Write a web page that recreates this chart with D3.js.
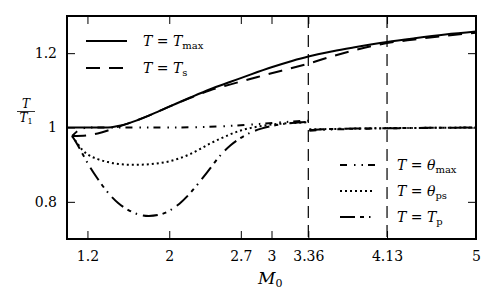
<!DOCTYPE html>
<html>
<head>
<meta charset="utf-8">
<script src="https://cdn.jsdelivr.net/npm/d3@7"></script>
<style>
  html, body { margin: 0; padding: 0; background: #fff; }
  svg { display: block; }
  svg text { font-family: "DejaVu Serif", serif !important; fill: #000; }
</style>
</head>
<body>
<svg id="chart" width="498" height="306"></svg>
<script>
// axis ticks
const xTicks = [1.2, 2, 2.7, 3, 3.36, 4.13, 5];
const xTickLabels = ['1.2', '2', '2.7', '3', '3.36', '4.13', '5'];
const yTicks = [0.8, 1, 1.2];
const yTickLabels = ['0.8', '1', '1.2'];
const markerMachs = [3.36, 4.13];

// T = T_max
const tmaxMach = [1.0, 1.2, 1.4, 1.5, 1.6, 1.7, 1.8, 1.9, 2.0, 2.2, 2.4, 2.6, 2.8, 3.0, 3.2, 3.36, 3.6, 3.8, 4.13, 4.4, 4.7, 5.0];
const tmaxVal  = [1.0, 1.0, 1.0, 1.004, 1.011, 1.021, 1.032, 1.044, 1.056, 1.08, 1.103, 1.123, 1.143, 1.162, 1.179, 1.191, 1.205, 1.215, 1.23, 1.24, 1.25, 1.258];

// T = T_s
const tsMach = [1.05, 1.2, 1.3, 1.4, 1.5, 1.6, 1.8, 2.0, 2.2, 2.4, 2.6, 2.8, 3.0, 3.2, 3.36, 3.6, 3.8, 4.13, 4.4, 4.7, 5.0];
const tsVal  = [0.977, 0.979, 0.984, 0.992, 1.002, 1.011, 1.032, 1.056, 1.079, 1.1, 1.116, 1.131, 1.146, 1.16, 1.172, 1.192, 1.207, 1.227, 1.237, 1.247, 1.255];

// T = theta_max (NaN = break at the shock)
const thetaMaxMach = [1.05, 1.1, 1.15, 1.2, 1.6, 2.0, 2.3, 2.5, 2.7, 2.9, 3.1, 3.25, 3.36, 3.361, 3.37, 3.5, 3.8, 4.2, 4.6, 5.0];
const thetaMaxVal  = [0.977, 0.99, 0.997, 1.0, 1.0, 1.0, 1.001, 1.003, 1.006, 1.01, 1.014, 1.017, 1.018, NaN, 0.991, 0.994, 0.996, 0.998, 0.999, 1.0];

// T = theta_ps
const thetaPsMach = [1.05, 1.1, 1.15, 1.2, 1.3, 1.4, 1.5, 1.6, 1.7, 1.8, 1.9, 2.0, 2.1, 2.2, 2.3, 2.4, 2.5, 2.6, 2.7, 2.8, 2.9, 3.0, 3.2, 3.36, 3.361, 3.37, 3.6, 4.0, 4.5, 5.0];
const thetaPsVal  = [0.977, 0.958, 0.94, 0.928, 0.915, 0.907, 0.902, 0.9, 0.9, 0.901, 0.904, 0.909, 0.917, 0.928, 0.942, 0.957, 0.97, 0.982, 0.992, 0.999, 1.004, 1.008, 1.012, 1.014, NaN, 0.995, 0.996, 0.998, 0.999, 1.0];

// T = T_p
const tpMach = [1.05, 1.1, 1.15, 1.2, 1.3, 1.4, 1.5, 1.6, 1.7, 1.8, 1.9, 2.0, 2.1, 2.2, 2.3, 2.4, 2.5, 2.6, 2.7, 2.8, 2.9, 3.0, 3.1, 3.2, 3.36, 3.361, 3.37, 3.5, 3.8, 4.13, 4.5, 5.0];
const tpVal  = [0.977, 0.955, 0.93, 0.905, 0.862, 0.825, 0.797, 0.778, 0.766, 0.762, 0.765, 0.776, 0.795, 0.822, 0.855, 0.89, 0.925, 0.952, 0.972, 0.987, 0.997, 1.004, 1.009, 1.012, 1.015, NaN, 0.993, 0.995, 0.997, 0.998, 0.999, 1.0];

const zip = (ms, vs) => ms.map((m, i) => ({ m: m, v: vs[i] }));

const series = [
  { data: zip(tmaxMach, tmaxVal), dash: null },
  { data: zip(tsMach, tsVal), dash: '14,9' },
  { data: zip(thetaMaxMach, thetaMaxVal), dash: '7,7,1.5,6,1.5,5' },
  { data: zip(thetaPsMach, thetaPsVal), dash: '2,3' },
  { data: zip(tpMach, tpVal), dash: '15,5,4,5,1.5,6' }
];

const plot = { left: 67, right: 476, top: 16, bottom: 239 };

const svg = d3.select('#chart');
const x = d3.scaleLinear().domain([1, 5]).range([plot.left, plot.right]);
const y = d3.scaleLinear().domain([0.7, 1.3]).range([plot.bottom, plot.top]);

// shock marker lines
svg.append('g')
  .selectAll('line')
  .data(markerMachs)
  .enter().append('line')
  .attr('x1', d => x(d)).attr('x2', d => x(d))
  .attr('y1', plot.top).attr('y2', plot.bottom)
  .attr('stroke', '#000')
  .attr('stroke-width', 1.2)
  .attr('stroke-dasharray', '12,7');

// curves
const line = d3.line()
  .defined(d => !isNaN(d.v))
  .x(d => x(d.m))
  .y(d => y(d.v))
  .curve(d3.curveMonotoneX);

svg.append('g')
  .selectAll('path')
  .data(series)
  .enter().append('path')
  .attr('d', d => line(d.data))
  .attr('fill', 'none')
  .attr('stroke', '#000')
  .attr('stroke-width', 2)
  .attr('stroke-dasharray', d => d.dash);

// axes with inward ticks on all four sides
const tickLen = 8;
const addAxis = (axis, tx, ty) => {
  const g = svg.append('g').attr('transform', `translate(${tx},${ty})`).call(axis);
  g.select('.domain').remove();
  g.attr('font-family', null).attr('font-size', 14);
  g.selectAll('.tick line').attr('stroke', '#000').attr('stroke-width', 1);
  return g;
};

addAxis(
  d3.axisBottom(x).tickValues(xTicks).tickSize(-tickLen).tickPadding(12)
    .tickFormat((d, i) => xTickLabels[i]),
  0, plot.bottom);
addAxis(d3.axisTop(x).tickValues(xTicks).tickSize(-tickLen).tickFormat(''), 0, plot.top);
addAxis(
  d3.axisLeft(y).tickValues(yTicks).tickSize(-tickLen).tickPadding(10)
    .tickFormat((d, i) => yTickLabels[i]),
  plot.left, 0);
addAxis(d3.axisRight(y).tickValues(yTicks).tickSize(-tickLen).tickFormat(''), plot.right, 0);

svg.append('rect')
  .attr('x', plot.left).attr('y', plot.top)
  .attr('width', plot.right - plot.left).attr('height', plot.bottom - plot.top)
  .attr('fill', 'none').attr('stroke', '#000').attr('stroke-width', 2);

// axis labels
const xLabel = svg.append('text')
  .attr('x', 258).attr('y', 284);
xLabel.append('tspan').attr('font-size', 17).attr('font-style', 'italic').text('M');
xLabel.append('tspan').attr('font-size', 11).attr('dx', 0).attr('dy', 3).text('0');

const yLabel = svg.append('g').attr('transform', 'translate(26,0)');
yLabel.append('text').attr('y', 108).attr('text-anchor', 'middle')
  .attr('font-size', 12).attr('font-style', 'italic').text('T');
yLabel.append('line').attr('x1', -9).attr('x2', 9).attr('y1', 111.5).attr('y2', 111.5)
  .attr('stroke', '#000').attr('stroke-width', 0.8);
const yDen = yLabel.append('text').attr('y', 122).attr('text-anchor', 'middle').attr('font-size', 12);
yDen.append('tspan').attr('font-style', 'italic').text('T');
yDen.append('tspan').attr('font-size', 8).attr('dy', 2).text('1');

// legends
const legendItems = [
  { s: 0, sym: 'T', sub: 'max', lx: 86, lw: 41, tx: 143, ly: 41 },
  { s: 1, sym: 'T', sub: 's', lx: 86, lw: 41, tx: 143, ly: 68 },
  { s: 2, sym: '\u03B8', sub: 'max', lx: 340, lw: 35, tx: 397, ly: 165 },
  { s: 3, sym: '\u03B8', sub: 'ps', lx: 340, lw: 35, tx: 397, ly: 191 },
  { s: 4, sym: 'T', sub: 'p', lx: 340, lw: 35, tx: 397, ly: 217 }
];

const legend = svg.append('g')
  .selectAll('g')
  .data(legendItems)
  .enter().append('g');

legend.append('line')
  .attr('x1', d => d.lx).attr('x2', d => d.lx + d.lw)
  .attr('y1', d => d.ly).attr('y2', d => d.ly)
  .attr('stroke', '#000').attr('stroke-width', 2)
  .attr('stroke-dasharray', d => series[d.s].dash);

const legendText = legend.append('text')
  .attr('x', d => d.tx).attr('y', d => d.ly + 5)
  .attr('font-size', 14);
legendText.append('tspan').attr('font-style', 'italic').text('T');
legendText.append('tspan').text(' = ');
legendText.append('tspan').attr('font-style', 'italic').text(d => d.sym);
legendText.append('tspan').attr('font-size', 10).attr('dy', 3).text(d => d.sub);
</script>
</body>
</html>
